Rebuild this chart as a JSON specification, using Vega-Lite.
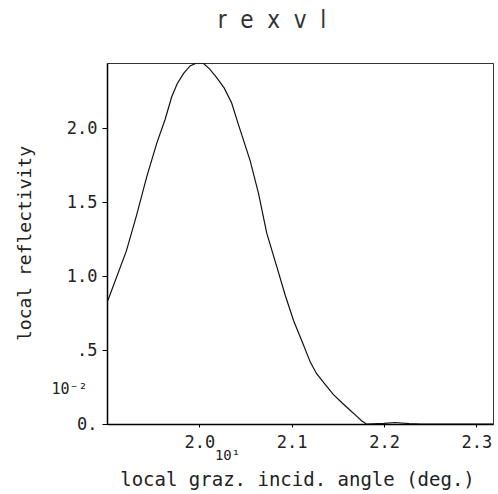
{
  "$schema": "https://vega.github.io/schema/vega-lite/v6.json",
  "width": 386,
  "height": 361,
  "autosize": {"type": "none"},
  "padding": {"left": 107, "top": 63, "right": 5, "bottom": 70},
  "background": "white",
  "title": {"text": "r\u00a0\u00a0e\u00a0\u00a0x\u00a0\u00a0v\u00a0\u00a0l", "font": "Liberation Sans Narrow, DejaVu Sans Condensed", "fontSize": 24, "fontWeight": "normal", "color": "#333", "offset": 30, "dx": -28},
  "config": {
    "view": {"stroke": "#333", "strokeWidth": 1},
    "axis": {
      "grid": false,
      "domainColor": "black",
      "domainWidth": 1.5,
      "tickColor": "black",
      "labelColor": "#222",
      "titleColor": "#222",
      "labelFont": "DejaVu Sans Mono",
      "titleFont": "DejaVu Sans Mono",
      "labelFontSize": 17,
      "titleFontSize": 18,
      "titleFontWeight": "normal",
      "labelOverlap": false
    }
  },
  "data": {
    "values": [
      {"angle": 1.900, "refl": 0.82},
      {"angle": 1.921, "refl": 1.17},
      {"angle": 1.932, "refl": 1.41},
      {"angle": 1.943, "refl": 1.67},
      {"angle": 1.954, "refl": 1.90},
      {"angle": 1.963, "refl": 2.06},
      {"angle": 1.970, "refl": 2.21},
      {"angle": 1.976, "refl": 2.30},
      {"angle": 1.983, "refl": 2.37},
      {"angle": 1.990, "refl": 2.42},
      {"angle": 1.997, "refl": 2.44},
      {"angle": 2.004, "refl": 2.44},
      {"angle": 2.011, "refl": 2.40},
      {"angle": 2.019, "refl": 2.34},
      {"angle": 2.027, "refl": 2.27},
      {"angle": 2.035, "refl": 2.17},
      {"angle": 2.042, "refl": 2.03},
      {"angle": 2.055, "refl": 1.78},
      {"angle": 2.064, "refl": 1.56},
      {"angle": 2.073, "refl": 1.29},
      {"angle": 2.084, "refl": 1.06},
      {"angle": 2.093, "refl": 0.87},
      {"angle": 2.102, "refl": 0.70},
      {"angle": 2.113, "refl": 0.53},
      {"angle": 2.120, "refl": 0.42},
      {"angle": 2.127, "refl": 0.34},
      {"angle": 2.136, "refl": 0.27},
      {"angle": 2.145, "refl": 0.20},
      {"angle": 2.155, "refl": 0.14},
      {"angle": 2.163, "refl": 0.095},
      {"angle": 2.170, "refl": 0.055},
      {"angle": 2.176, "refl": 0.02},
      {"angle": 2.181, "refl": 0.0},
      {"angle": 2.200, "refl": 0.004},
      {"angle": 2.212, "refl": 0.01},
      {"angle": 2.227, "refl": 0.003},
      {"angle": 2.240, "refl": 0.0},
      {"angle": 2.318, "refl": 0.0}
    ]
  },
  "mark": {"type": "line", "color": "#111", "strokeWidth": 1.2, "clip": true},
  "encoding": {
    "x": {
      "field": "angle",
      "type": "quantitative",
      "scale": {"domain": [1.9, 2.318], "nice": false, "zero": false},
      "axis": {
        "values": [2.0, 2.03, 2.1, 2.2, 2.3],
        "labelExpr": "datum.value == 2.03 ? '10¹' : format(datum.value, '.1f')",
        "tickSize": 3,
        "tickOpacity": {"condition": {"test": "datum.value == 2.03", "value": 0}, "value": 1},
        "labelPadding": {"condition": {"test": "datum.value == 2.03", "value": 21}, "value": 7},
        "labelFontSize": {"condition": {"test": "datum.value == 2.03", "value": 14}, "value": 17},
        "title": "local graz. incid. angle (deg.)",
        "titleFontSize": 19,
        "titleX": 190,
        "titleY": 55,
        "titleBaseline": "middle"
      }
    },
    "y": {
      "field": "refl",
      "type": "quantitative",
      "scale": {"domain": [0, 2.44], "nice": false},
      "axis": {
        "values": [0, 0.24, 0.5, 1.0, 1.5, 2.0],
        "labelExpr": "datum.value == 0.24 ? '10⁻²' : datum.value == 0 ? '0.' : datum.value == 0.5 ? '.5' : format(datum.value, '.1f')",
        "tickSize": 5,
        "tickOpacity": {"condition": {"test": "datum.value == 0.24", "value": 0}, "value": 1},
        "labelPadding": {"condition": {"test": "datum.value == 0.24", "value": 15}, "value": 5},
        "labelFontSize": {"condition": {"test": "datum.value == 0.24", "value": 15}, "value": 17},
        "title": "local reflectivity",
        "titleX": -82,
        "titleY": 180,
        "titleBaseline": "middle"
      }
    }
  }
}
